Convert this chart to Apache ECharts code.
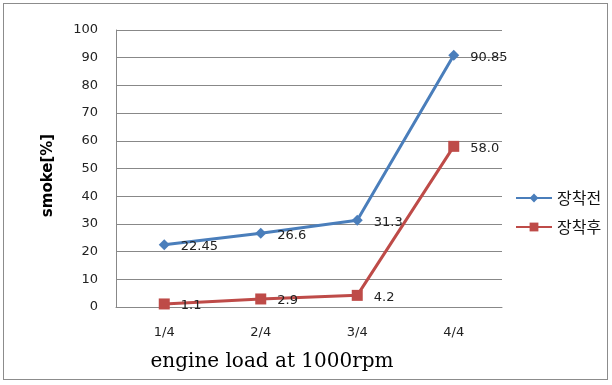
<!DOCTYPE html>
<html><head><meta charset="utf-8">
<script src="https://cdn.jsdelivr.net/npm/echarts@6/dist/echarts.min.js"></script>
<style>html,body{margin:0;padding:0;background:#fff}#c{width:612px;height:385px}
#frame{position:absolute;left:3px;top:3px;width:603px;height:375px;border:1px solid #8c8c8c;pointer-events:none}</style>
</head><body><div id="c"></div><div id="frame"></div>
<script>
const categories = ['1/4', '2/4', '3/4', '4/4'];
const seriesBefore = [22.45, 26.6, 31.3, 90.85];
const seriesAfter = [1.1, 2.9, 4.2, 58.0];
const labelsBefore = ['22.45', '26.6', '31.3', '90.85'];
const labelsAfter = ['1.1', '2.9', '4.2', '58.0'];
const yTicks = [0, 10, 20, 30, 40, 50, 60, 70, 80, 90, 100];

const chart = echarts.init(document.getElementById('c'));
const labelFont = {fontFamily: 'DejaVu Sans', fontSize: 13, color: '#222'};
chart.setOption({
  animation: false,
  grid: {left: 116, right: 110, top: 30, bottom: 78},
  xAxis: {
    type: 'category', data: categories, boundaryGap: true,
    axisLine: {show: true, lineStyle: {color: '#888'}},
    axisTick: {show: false},
    axisLabel: {margin: 19, fontFamily: 'DejaVu Sans', fontSize: 13, color: '#222'},
    name: 'engine load at 1000rpm', nameLocation: 'middle', nameGap: 45,
    nameTextStyle: {fontFamily: 'DejaVu Serif', fontSize: 20, color: '#000', padding: [0, 0, 0, -74]}
  },
  yAxis: {
    type: 'value', min: 0, max: 100, interval: 10,
    axisLine: {show: true, lineStyle: {color: '#888'}},
    axisTick: {show: false},
    splitLine: {lineStyle: {color: '#888', width: 1}},
    axisLabel: {margin: 18, fontFamily: 'DejaVu Sans', fontSize: 13, color: '#222',
      formatter: v => yTicks.includes(v) ? String(v) : ''},
    name: 'smoke[%]', nameLocation: 'middle', nameGap: 60,
    nameTextStyle: {fontFamily: 'DejaVu Sans', fontSize: 15, fontWeight: 'bold', color: '#000', padding: [0, 0, 0, -14]}
  },
  legend: {
    orient: 'vertical', left: 510, top: 185, itemGap: 13, itemWidth: 36, itemHeight: 11,
    textStyle: {fontFamily: 'Noto Sans CJK KR', fontSize: 16, color: '#111'},
    data: ['장착전', '장착후']
  },
  series: [
    {name: '장착전', type: 'line', data: seriesBefore, symbol: 'diamond', symbolSize: 11,
     lineStyle: {color: '#4A7EBB', width: 3}, itemStyle: {color: '#4A7EBB'},
     label: {show: true, position: 'right', distance: 11, offset: [0, 2], ...labelFont,
       formatter: p => labelsBefore[p.dataIndex]}},
    {name: '장착후', type: 'line', data: seriesAfter, symbol: 'rect', symbolSize: 11,
     lineStyle: {color: '#BE4B48', width: 3}, itemStyle: {color: '#BE4B48'},
     label: {show: true, position: 'right', distance: 11, offset: [0, 2], ...labelFont,
       formatter: p => labelsAfter[p.dataIndex]}}
  ]
});
</script></body></html>
